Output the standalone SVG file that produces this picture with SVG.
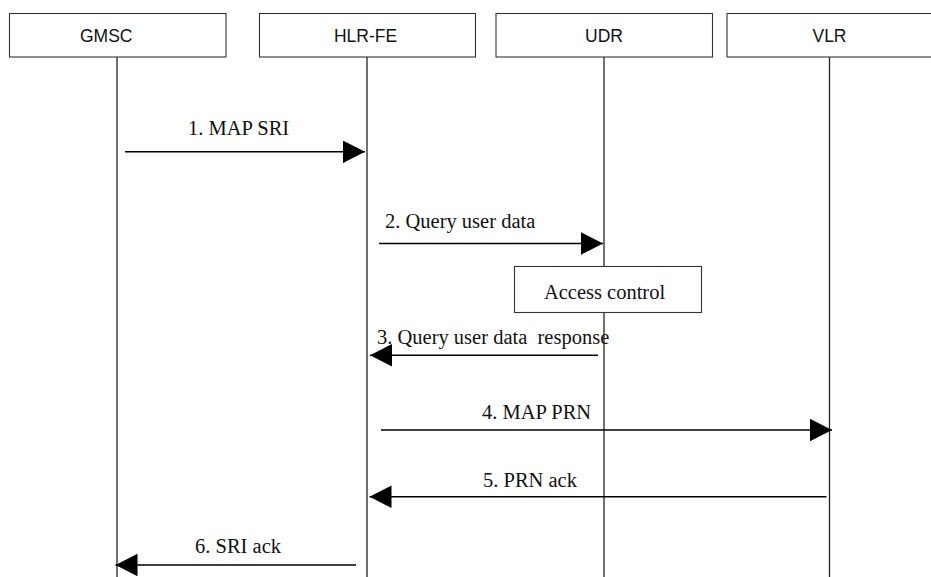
<svg xmlns="http://www.w3.org/2000/svg" width="931" height="577" viewBox="0 0 931 577">
<defs>
<style>
.box{fill:#fff;stroke:#333;stroke-width:1.1}
.life{stroke:#222;stroke-width:1.3;fill:none}
.msg{stroke:#000;stroke-width:1.6;fill:none;marker-end:url(#ah)}
.hdr{font-family:"Liberation Sans",Arial,sans-serif;font-size:17.5px;fill:#111}
.lbl{font-family:"Liberation Serif","Times New Roman",serif;font-size:20.5px;fill:#111;white-space:pre}
</style>
<marker id="ah" viewBox="0 0 22 22.5" refX="22" refY="11.25" markerWidth="22" markerHeight="22.5" markerUnits="userSpaceOnUse" orient="auto">
<path d="M0,0 L22,11.25 L0,22.5 Z" fill="#000"/>
</marker>
</defs>
<rect width="931" height="577" fill="#fff"/>
<g id="lifelines">
<line class="life" x1="117" y1="57" x2="117" y2="577"/>
<line class="life" x1="367" y1="57" x2="367" y2="577"/>
<line class="life" x1="604" y1="57" x2="604" y2="577"/>
<line class="life" x1="829.5" y1="57" x2="829.5" y2="577"/>
</g>
<g id="GMSC">
<rect class="box" x="9.5" y="13.5" width="216.5" height="43.5"/>
<text class="hdr" x="80" y="42.3">GMSC</text>
</g>
<g id="HLR-FE">
<rect class="box" x="259.5" y="13.5" width="216" height="43.5"/>
<text class="hdr" x="365.5" y="42.3" text-anchor="middle">HLR-FE</text>
</g>
<g id="UDR">
<rect class="box" x="496" y="13.5" width="216.5" height="43.5"/>
<text class="hdr" x="604" y="42.3" text-anchor="middle">UDR</text>
</g>
<g id="VLR">
<rect class="box" x="727" y="13.5" width="220" height="43.5"/>
<text class="hdr" x="829.5" y="42.3" text-anchor="middle">VLR</text>
</g>
<g id="AccessControl">
<rect class="box" x="514.5" y="266.5" width="187" height="46"/>
<text class="lbl" x="604.5" y="299" text-anchor="middle">Access control</text>
</g>
<g id="connectors">
<line class="msg" x1="125" y1="151.8" x2="365" y2="151.8"/>
<line class="msg" x1="379" y1="243.5" x2="603" y2="243.5"/>
<line class="msg" x1="598" y1="355.3" x2="370" y2="355.3"/>
<line class="msg" x1="381" y1="430" x2="832" y2="430"/>
<line class="msg" x1="826.5" y1="496.7" x2="369.5" y2="496.7"/>
<line class="msg" x1="356" y1="565" x2="115.5" y2="565"/>
</g>
<g id="labels">
<text class="lbl" x="188" y="135">1. MAP SRI</text>
<text class="lbl" x="385" y="228">2. Query user data</text>
<text class="lbl" x="377" y="344">3. Query user data  response</text>
<text class="lbl" x="482" y="419">4. MAP PRN</text>
<text class="lbl" x="483" y="486.5">5. PRN ack</text>
<text class="lbl" x="195" y="552.5">6. SRI ack</text>
</g>
</svg>
